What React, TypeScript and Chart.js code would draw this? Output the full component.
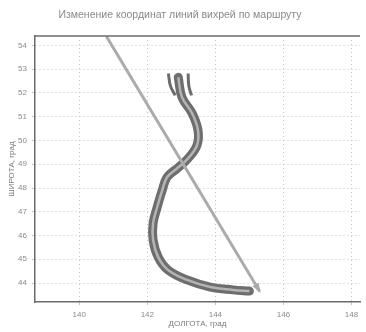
import React, { useEffect, useRef } from "react";
import { Chart, registerables } from "chart.js";

Chart.register(...registerables);

const chartTitle = "Изменение координат линий вихрей по маршруту";
const xAxisTitle = "ДОЛГОТА, град";
const yAxisTitle = "ШИРОТА, град";

const xTicks = [140, 142, 144, 146, 148];
const yTicks = [44, 45, 46, 47, 48, 49, 50, 51, 52, 53, 54];
const xMin = 138.7;
const xMax = 148.25;
const yMin = 43.2;
const yMax = 54.4;

// vortex band (centre line)
const vortexLon = [142.91, 143.02, 143.32, 143.49, 143.46, 143.2, 142.88, 142.58, 142.44, 142.29, 142.17, 142.17, 142.32, 142.61, 143.17, 143.85, 144.52, 145.0];
const vortexLat = [52.66, 51.82, 51.14, 50.43, 49.8, 49.25, 48.83, 48.45, 47.91, 47.19, 46.52, 45.81, 45.09, 44.55, 44.13, 43.83, 43.71, 43.66];

// separate strands at the top of the band
const strandLeftLon = [142.62, 142.68, 142.82];
const strandLeftLat = [52.82, 52.3, 51.9];
const strandRightLon = [143.2, 143.22, 143.3];
const strandRightLat = [52.82, 52.3, 51.9];

// straight route line
const routeLon = [140.8, 145.3];
const routeLat = [54.38, 43.65];

const zip = (xs: number[], ys: number[]) => xs.map((x, i) => ({ x, y: ys[i] }));

const FONT = "'Liberation Sans', Arial, sans-serif";

const frameTop = {
  id: "frameTop",
  afterDraw(chart: any) {
    const { ctx, chartArea } = chart;
    ctx.save();
    ctx.strokeStyle = "#6a6a6a";
    ctx.lineWidth = 1.5;
    ctx.beginPath();
    ctx.moveTo(chartArea.left, chartArea.top);
    ctx.lineTo(chartArea.right, chartArea.top);
    ctx.stroke();
    ctx.restore();
  },
};

const arrowHead = {
  id: "arrowHead",
  afterDatasetsDraw(chart: any) {
    const ds = chart.data.datasets.findIndex((d: any) => d.label === "route");
    if (ds < 0) return;
    const meta = chart.getDatasetMeta(ds);
    const pts = meta.data;
    const a = pts[pts.length - 2];
    const b = pts[pts.length - 1];
    const ang = Math.atan2(b.y - a.y, b.x - a.x);
    const { ctx } = chart;
    const len = 8;
    const w = 3.5;
    ctx.save();
    ctx.translate(b.x, b.y);
    ctx.rotate(ang);
    ctx.fillStyle = "#a9a9a9";
    ctx.beginPath();
    ctx.moveTo(2, 0);
    ctx.lineTo(-len, -w);
    ctx.lineTo(-len, w);
    ctx.closePath();
    ctx.fill();
    ctx.restore();
  },
};

export default function App() {
  const ref = useRef<HTMLCanvasElement | null>(null);

  useEffect(() => {
    document.body.style.margin = "0";
    const canvas = ref.current;
    if (!canvas) return;
    const chart = new Chart(canvas, {
      type: "scatter",
      data: {
        datasets: [
          {
            label: "route",
            data: zip(routeLon, routeLat),
            showLine: true,
            borderColor: "#ababab",
            borderWidth: 3,
            pointRadius: 0,
            order: 0,
          },
          {
            label: "bandCore",
            data: zip(vortexLon, vortexLat),
            showLine: true,
            borderColor: "#b4b4b4",
            borderWidth: 2.5,
            pointRadius: 0,
            tension: 0.4,
            order: 1,
          },
          {
            label: "band",
            data: zip(vortexLon, vortexLat),
            showLine: true,
            borderColor: "#6e6e6e",
            borderWidth: 9,
            borderCapStyle: "round",
            borderJoinStyle: "round",
            pointRadius: 0,
            tension: 0.4,
            order: 2,
          },
          {
            label: "strandL",
            data: zip(strandLeftLon, strandLeftLat),
            showLine: true,
            borderColor: "#6c6c6c",
            borderWidth: 3,
            pointRadius: 0,
            tension: 0.4,
            order: 3,
          },
          {
            label: "strandR",
            data: zip(strandRightLon, strandRightLat),
            showLine: true,
            borderColor: "#6c6c6c",
            borderWidth: 3,
            pointRadius: 0,
            tension: 0.4,
            order: 3,
          },
        ],
      },
      options: {
        responsive: false,
        animation: false,
        layout: { padding: { left: 0, right: 6, top: 0, bottom: 0 } },
        plugins: {
          legend: { display: false },
          tooltip: { enabled: false },
          title: {
            display: true,
            text: chartTitle,
            color: "#8a8a8a",
            font: { family: FONT, size: 10.5, weight: "normal" },
            padding: { top: 9, bottom: 14.4 },
          },
        },
        scales: {
          x: {
            type: "linear",
            min: xMin,
            max: xMax,
            afterBuildTicks: (scale: any) => {
              scale.ticks = xTicks.map((v) => ({ value: v }));
            },
            afterFit: (scale: any) => {
              scale.height = 30;
            },
            ticks: {
              color: "#8a8a8a",
              font: { family: FONT, size: 8 },
              padding: 5,
              maxRotation: 0,
            },
            grid: { color: "#c4c4c4", lineWidth: 1, tickLength: 3, drawTicks: true },
            border: { display: true, color: "#6a6a6a", width: 1.5, dash: [1, 3] },
            title: {
              display: true,
              text: xAxisTitle,
              color: "#7a7a7a",
              font: { family: FONT, size: 8 },
              padding: { top: 0, bottom: 3 },
            },
          },
          y: {
            type: "linear",
            min: yMin,
            max: yMax,
            afterBuildTicks: (scale: any) => {
              scale.ticks = yTicks.map((v) => ({ value: v }));
            },
            afterFit: (scale: any) => {
              scale.width = 35;
            },
            ticks: {
              color: "#8a8a8a",
              font: { family: FONT, size: 8 },
              padding: 5,
            },
            grid: { color: "#c4c4c4", lineWidth: 1, tickLength: 3, drawTicks: true },
            border: { display: true, color: "#6a6a6a", width: 1.5, dash: [1, 3] },
            title: {
              display: true,
              text: yAxisTitle,
              color: "#7a7a7a",
              font: { family: FONT, size: 8 },
              padding: { top: 7, bottom: 0 },
            },
          },
        },
      },
      plugins: [frameTop, arrowHead],
    } as any);
    return () => chart.destroy();
  }, []);

  return (
    <div style={{ position: "absolute", left: 0, top: 0, width: 366, height: 332, background: "#fff" }}>
      <canvas ref={ref} width={366} height={332} style={{ width: 366, height: 332 }} />
    </div>
  );
}
